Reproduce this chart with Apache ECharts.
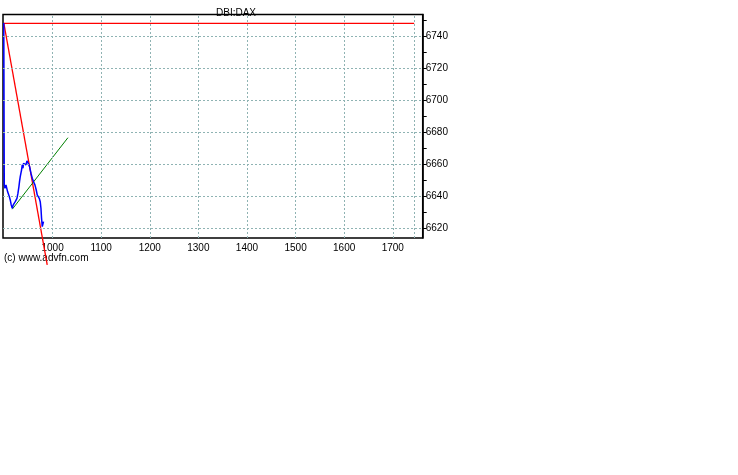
<!DOCTYPE html>
<html><head><meta charset="utf-8">
<script src="https://cdn.jsdelivr.net/npm/echarts@6/dist/echarts.min.js"></script>
<style>html,body{margin:0;padding:0;background:#fff}#c{width:738px;height:475px}</style>
</head><body><div id="c"></div>
<script>
const title = 'DBI:DAX';
const credit = '(c) www.advfn.com';
const xTicks = [1000, 1100, 1200, 1300, 1400, 1500, 1600, 1700];
const xExtraGrid = [1744];
const yTicks = [6620, 6640, 6660, 6680, 6700, 6720, 6740];
const yMinorTicks = [6620, 6630, 6640, 6650, 6660, 6670, 6680, 6690, 6700, 6710, 6720, 6730, 6740, 6750];
const priceX = [899.6, 900.6, 902.0, 904.1, 906.1, 907.4, 909.4, 910.9, 912.9, 914.9, 917.0, 919.1, 921.2, 923.2, 925.3, 926.7, 928.8, 930.8, 932.0, 933.5, 934.9, 936.2, 937.6, 939.1, 940.3, 943.2, 945.2, 947.3, 950.0, 952.7, 955.5, 958.2, 960.9, 963.7, 966.4, 968.4, 970.5, 972.6, 974.6, 976.1, 977.3, 978.8, 980.2, 981.4];
const priceY = [6748.3, 6647.1, 6645.0, 6647.1, 6646.0, 6642.9, 6643.9, 6639.8, 6637.7, 6634.6, 6632.5, 6634.6, 6634.1, 6636.6, 6637.7, 6638.7, 6641.9, 6646.0, 6649.1, 6652.3, 6654.4, 6656.4, 6659.6, 6657.5, 6660.6, 6661.3, 6659.6, 6662.1, 6660.6, 6658.5, 6654.4, 6651.3, 6649.1, 6647.1, 6643.9, 6640.8, 6639.8, 6638.7, 6636.6, 6632.5, 6626.3, 6621.0, 6622.1, 6624.1];
const resistX = [899.6, 1744];
const resistY = [6748.1, 6748.1];
const downTrendX = [899.6, 989.0];
const downTrendY = [6748.4, 6597.1];
const upTrendX = [917.1, 1031.6];
const upTrendY = [6631.9, 6676.6];

const zip = (a, b) => a.map((v, i) => [v, b[i]]);
const gridStyle = { color: '#8fb3b3', type: [2, 2], width: 1 };
const font = 'Liberation Sans, Arial, sans-serif';

const chart = echarts.init(document.getElementById('c'));
chart.setOption({
  animation: false,
  backgroundColor: '#fff',
  title: { text: title, left: 211, top: 3, textStyle: { fontSize: 10, fontWeight: 'normal', color: '#000', fontFamily: font } },
  graphic: [{ type: 'text', left: 4, top: 253, style: { text: credit, fontSize: 10, fill: '#000', fontFamily: font } }],
  grid: { left: 3, right: 315.3, top: 14.5, bottom: 237, show: true, borderColor: '#000', borderWidth: 1.5, backgroundColor: 'transparent' },
  xAxis: {
    type: 'value', min: 898, max: 1761.6,
    axisLine: { show: false },
    axisTick: { show: false },
    splitLine: { show: false },
    axisLabel: { customValues: xTicks, formatter: v => String(v), fontSize: 10, color: '#000', fontFamily: font, margin: 5 }
  },
  yAxis: {
    type: 'value', position: 'right', min: 6613.9, max: 6753.6,
    axisLine: { show: true, lineStyle: { color: '#000', width: 1.5 } },
    axisTick: { show: true, customValues: yMinorTicks, length: 4, inside: false, lineStyle: { color: '#000' } },
    splitLine: { show: false },
    axisLabel: { customValues: yTicks, formatter: v => String(v), fontSize: 10, color: '#000', fontFamily: font, margin: 3 }
  },
  series: [
    {
      type: 'scatter', data: [[898, 6613.9]], symbolSize: 0, silent: true, z: 1,
      markLine: {
        silent: true, symbol: 'none', label: { show: false }, lineStyle: gridStyle, animation: false,
        data: xTicks.concat(xExtraGrid).map(v => ({ xAxis: v })).concat(yTicks.map(v => ({ yAxis: v })))
      }
    },
    { type: 'line', data: zip(resistX, resistY), symbol: 'none', lineStyle: { color: '#ff0000', width: 1.3 }, z: 3 },
    { type: 'line', data: zip(downTrendX, downTrendY), symbol: 'none', clip: false, lineStyle: { color: '#ff0000', width: 1.3 }, z: 3 },
    { type: 'line', data: zip(upTrendX, upTrendY), symbol: 'none', lineStyle: { color: '#008000', width: 1 }, z: 3 },
    { type: 'line', data: zip(priceX, priceY), symbol: 'none', smooth: false, lineStyle: { color: '#0000ff', width: 1.5 }, z: 4 }
  ]
});
</script></body></html>
